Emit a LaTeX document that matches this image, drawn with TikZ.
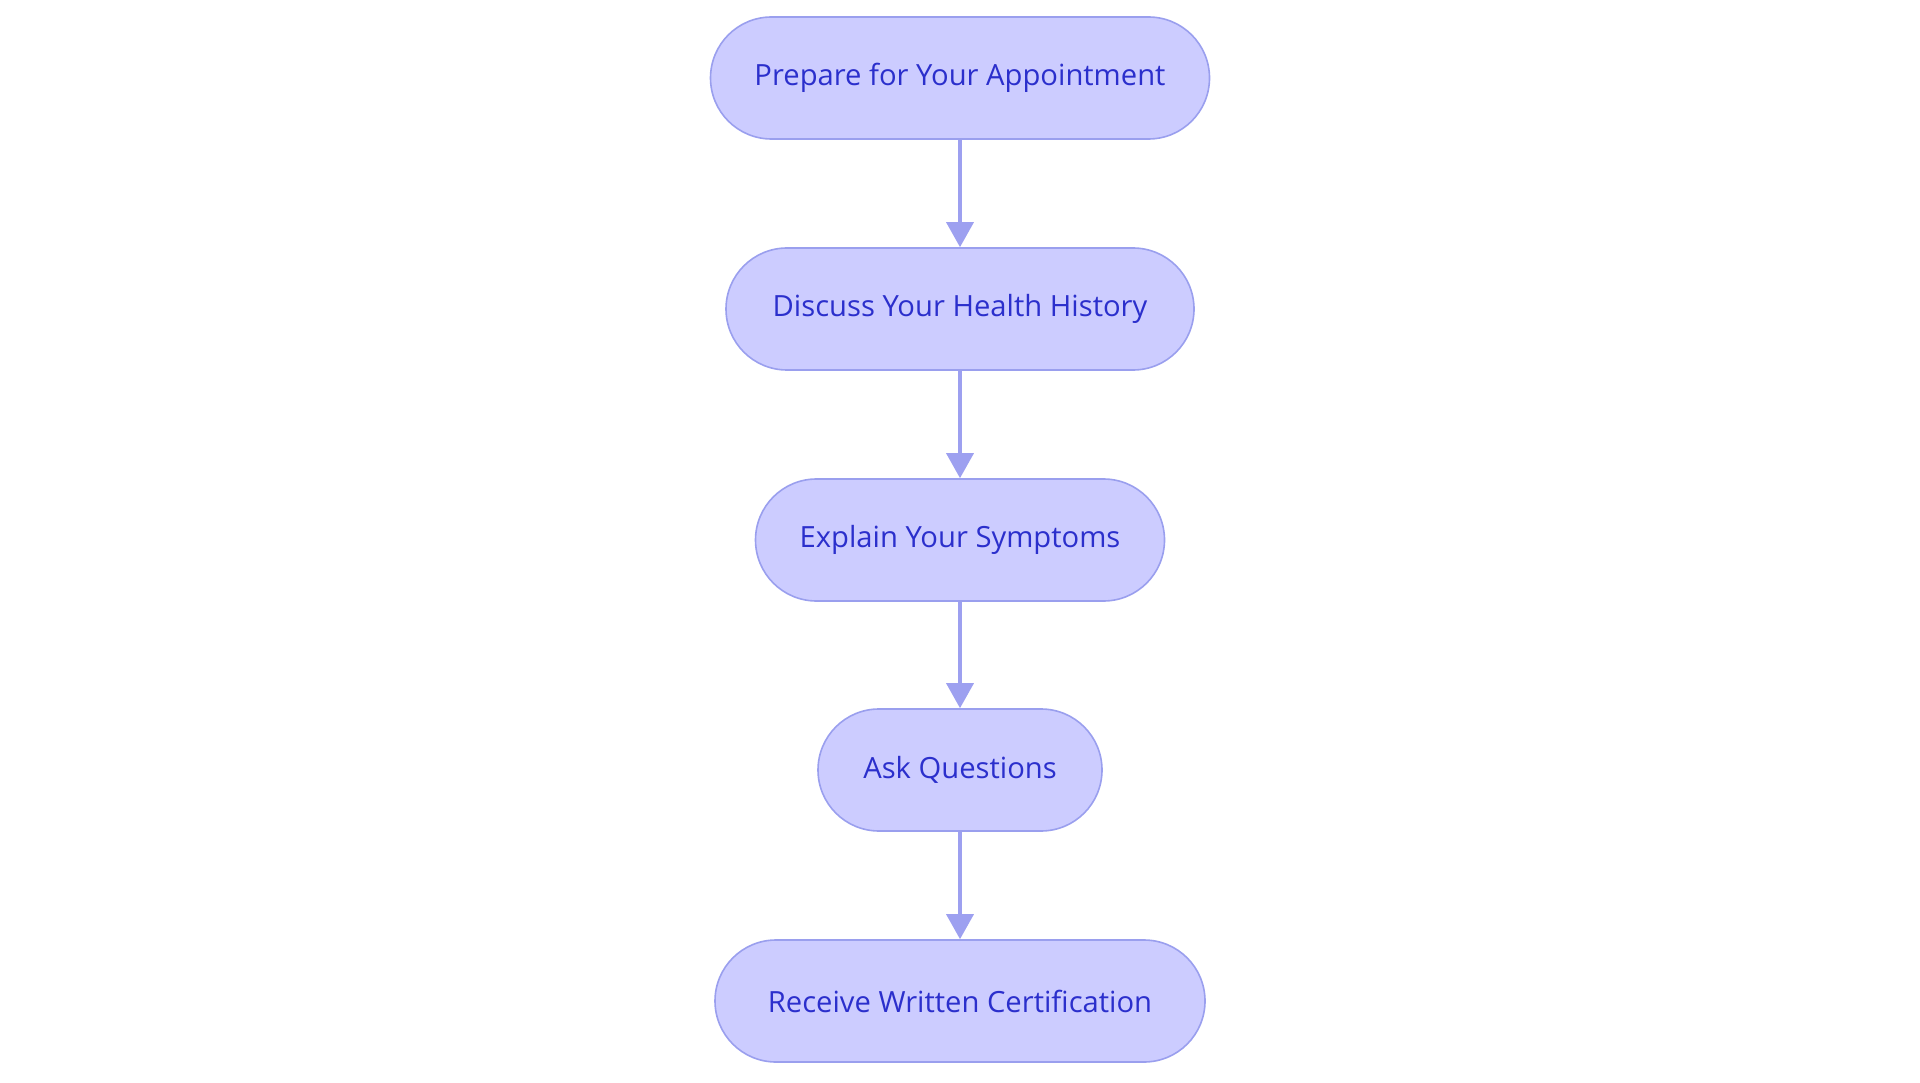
\documentclass[tikz,border=0pt]{standalone}
\usepackage{fontspec}
\setmainfont{Open Sans}
\usetikzlibrary{arrows.meta}
\definecolor{nodefill}{HTML}{CCCCFF}
\definecolor{nodeline}{HTML}{9A9FEE}
\definecolor{nodetext}{HTML}{2B2FCC}
\definecolor{arrowcol}{HTML}{9DA0F0}
\begin{document}
\begin{tikzpicture}[x=1pt,y=-1pt,
  stepbox/.style={draw=nodeline, line width=1.6pt, fill=nodefill, rounded corners=61pt,
    minimum height=122pt, inner sep=0pt, text=nodetext,
    font=\fontsize{29.2}{34}\selectfont},
  flow/.style={draw=arrowcol, line width=3.5pt, -{Triangle[width=27pt,length=25pt]}, shorten >=0pt}]
\useasboundingbox (0,0) rectangle (1920,1083);
\node[stepbox, minimum width=499pt] (a) at (960,78) {Prepare for Your Appointment};
\node[stepbox, minimum width=468pt] (b) at (960,309) {Discuss Your Health History};
\node[stepbox, minimum width=409pt] (c) at (960,540) {Explain Your Symptoms};
\node[stepbox, minimum width=284pt] (d) at (960,770) {Ask Questions};
\node[stepbox, minimum width=490pt] (e) at (960,1001) {Receive Written Certification};
\draw[flow] (a) -- (b);
\draw[flow] (b) -- (c);
\draw[flow] (c) -- (d);
\draw[flow] (d) -- (e);
\end{tikzpicture}
\end{document}
